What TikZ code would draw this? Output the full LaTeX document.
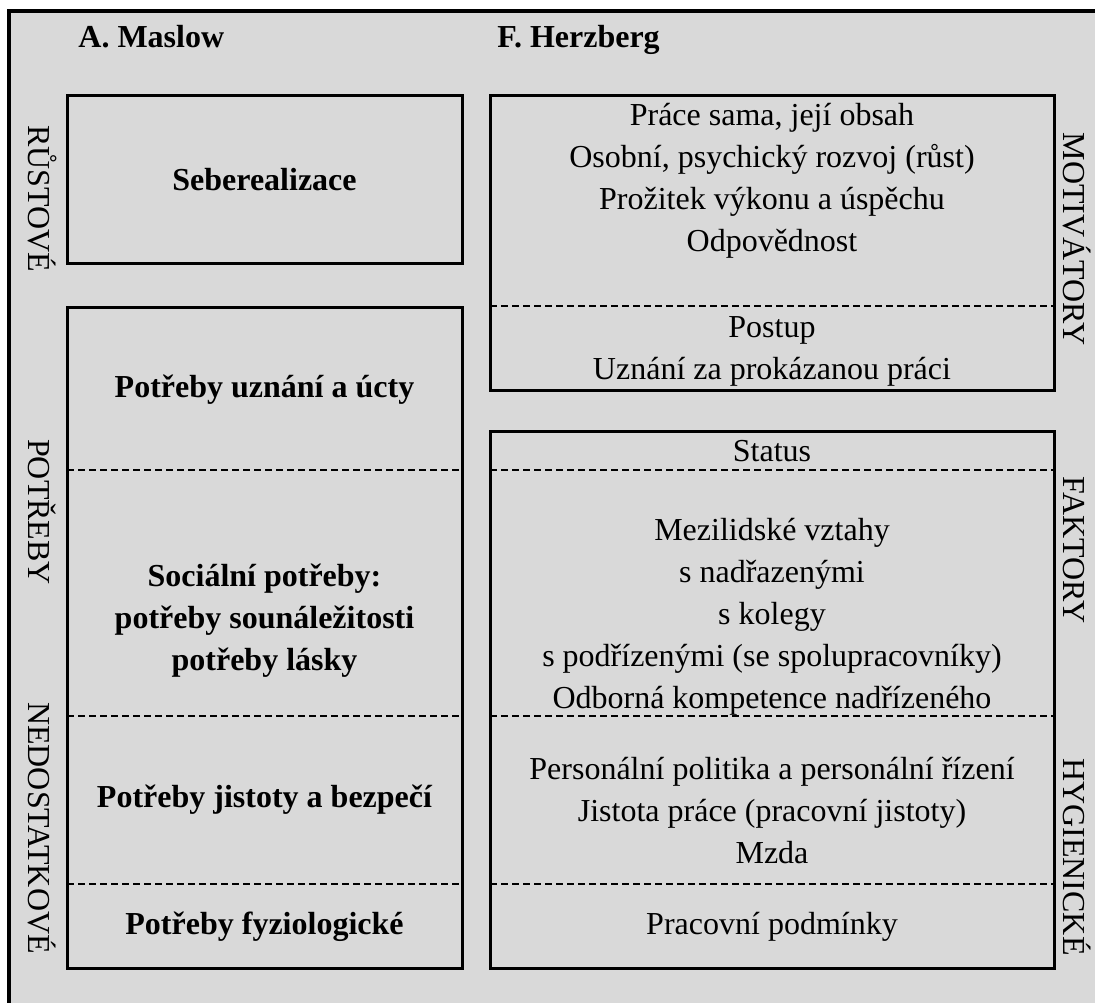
\documentclass[tikz,border=0pt]{standalone}
\usepackage{fontspec}
\setmainfont{Liberation Serif}
\usetikzlibrary{positioning}
\definecolor{bgc}{HTML}{D9D9D9}
\tikzset{
  frame/.style={draw=black, line width=2pt},
  cell/.style={draw=black, line width=1.5pt},
  sep/.style={black, line width=1pt, dash pattern=on 3.5pt off 2pt},
  item/.style={font=\fontsize{16}{21}\selectfont, align=center, inner sep=0pt},
  need/.style={item, font=\fontsize{16}{21}\selectfont\bfseries},
  side/.style={font=\fontsize{16}{18}\selectfont, rotate=-90, anchor=base, inner sep=0pt},
  head/.style={font=\fontsize{16}{18}\selectfont\bfseries, anchor=base west, inner sep=0pt},
}
\newcommand{\lx}{264.5}
\newcommand{\rx}{772}

\begin{document}
\begin{tikzpicture}[x=0.5pt, y=-0.5pt]
  \useasboundingbox (0,0) rectangle (1095,1002);
  \fill[bgc] (9,11) rectangle (1120,1020);
  \draw[frame] (9,1020) -- (9,11) -- (1120,11);
  % boxes
  \draw[cell] (67,95) rectangle (462,263);
  \draw[cell] (67,307) rectangle (462,968);
  \draw[cell] (490,95) rectangle (1054,390);
  \draw[cell] (490,431) rectangle (1054,968);
  \draw[sep] (490,306) -- (1054,306);
  \foreach \yy in {470,716,884}{%
    \draw[sep] (67,\yy) -- (462,\yy);
    \draw[sep] (490,\yy) -- (1054,\yy);}
  % headings
  \node[head] (maslow) at (78,47) {A. Maslow};
  \node[head] (herzberg) at (497,47) {F. Herzberg};
  % Maslow
  \node[need] (seb) at (\lx,180) {Seberealizace};
  \node[need] (uzn) at (\lx,390) {Potřeby uznání a úcty};
  \node[need] (soc) at (\lx,621) {Sociální potřeby:\\ potřeby sounáležitosti\\ potřeby lásky};
  \node[need] (jis) at (\lx,800) {Potřeby jistoty a bezpečí};
  \node[need] (fyz) at (\lx,927) {Potřeby fyziologické};
  % Herzberg
  \node[item] (prace) at (\rx,181) {Práce sama, její obsah\\ Osobní, psychický rozvoj (růst)\\ Prožitek výkonu a úspěchu\\ Odpovědnost};
  \node[item] (postup) at (\rx,351) {Postup\\ Uznání za prokázanou práci};
  \node[item] (status) at (\rx,451) {Status};
  \node[item] (vztahy) at (\rx,617) {Mezilidské vztahy\\ s nadřazenými\\ s kolegy\\ s podřízenými (se spolupracovníky)\\ Odborná kompetence nadřízeného};
  \node[item] (mzda) at (\rx,811) {Personální politika a personální řízení\\ Jistota práce (pracovní jistoty)\\ Mzda};
  \node[item] (podm) at (\rx,927) {Pracovní podmínky};
  % side labels
  \node[side] (rust) at (28,199) {RŮSTOVÉ};
  \node[side] (potr) at (28,512) {POTŘEBY};
  \node[side] (nedo) at (28,828) {NEDOSTATKOVÉ};
  \node[side] (moti) at (1063,239) {MOTIVÁTORY};
  \node[side] (fakt) at (1063,550) {FAKTORY};
  \node[side] (hyg) at (1063,857) {HYGIENICKÉ};
\end{tikzpicture}
\end{document}
